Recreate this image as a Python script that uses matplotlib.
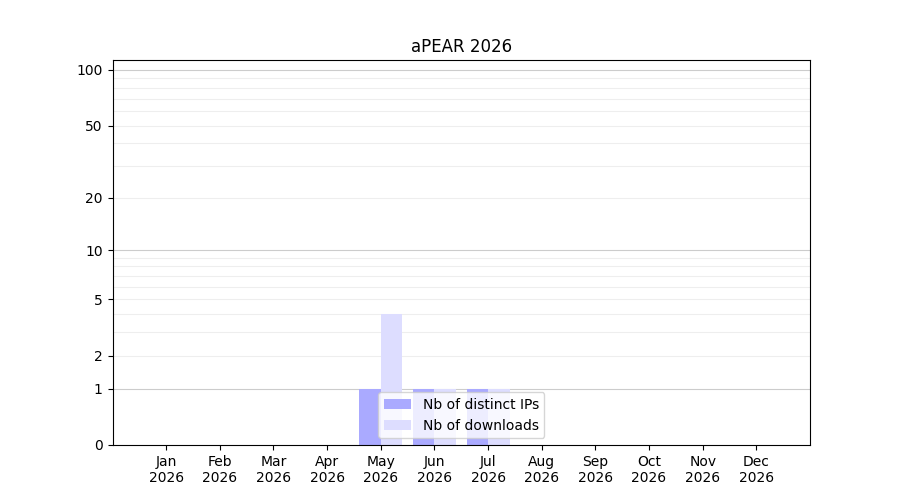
import numpy as np
import matplotlib
matplotlib.use("Agg")
import matplotlib.pyplot as plt

months = ["Jan", "Feb", "Mar", "Apr", "May", "Jun", "Jul", "Aug", "Sep", "Oct", "Nov", "Dec"]
year = "2026"
distinct_ips = [0, 0, 0, 0, 1, 1, 1, 0, 0, 0, 0, 0]
downloads = [0, 0, 0, 0, 4, 1, 1, 0, 0, 0, 0, 0]
yticks = [0, 1, 2, 5, 10, 20, 50, 100]
major_grid = [1, 10, 100]
minor_grid = [2, 3, 4, 5, 6, 7, 8, 9, 20, 30, 40, 50, 60, 70, 80, 90]

fig, ax = plt.subplots(figsize=(9, 5), dpi=100)

def fwd(y):
    return np.log10(1 + np.asarray(y, dtype=float))

def inv(y):
    return 10 ** np.asarray(y, dtype=float) - 1

ax.set_yscale("function", functions=(fwd, inv))

x = np.arange(1, len(months) + 1)
ax.set_axisbelow(True)
for g in minor_grid:
    ax.axhline(g, color="#eeeeee", linewidth=0.8, zorder=0)
for g in major_grid:
    ax.axhline(g, color="#cccccc", linewidth=0.8, zorder=0)

ax.bar(x, distinct_ips, width=-0.4, align="edge", color="#aaaaff", label="Nb of distinct IPs", zorder=2)
ax.bar(x, downloads, width=0.4, align="edge", color="#ddddff", label="Nb of downloads", zorder=2)

ax.set_xlim(0, 13)
ax.set_ylim(0, 113.2)
ax.set_yticks(yticks)
ax.set_yticklabels([str(t) for t in yticks])
ax.yaxis.set_minor_locator(matplotlib.ticker.NullLocator())
ax.set_xticks(x)
ax.set_xticklabels([f"{m}\n{year}" for m in months])
ax.set_title(f"aPEAR {year}")
ax.legend(loc="lower center")

fig.savefig("out.png")
